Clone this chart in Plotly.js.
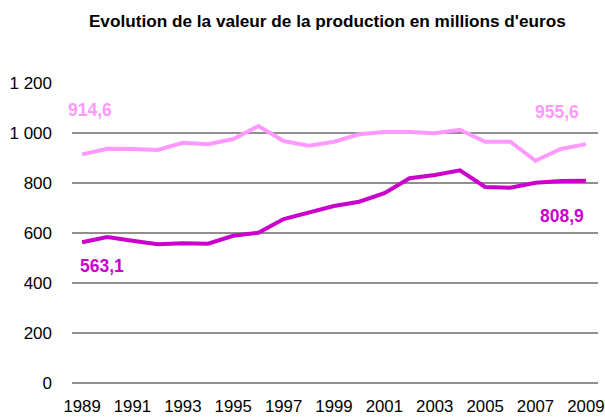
<!DOCTYPE html>
<html>
<head>
<meta charset="utf-8">
<script src="https://cdn.plot.ly/plotly-3.0.1.min.js"></script>
<style>
html,body{margin:0;padding:0;background:#fff;}
#chart{width:605px;height:419px;}
</style>
</head>
<body>
<div id="chart"></div>
<script>
const years = [1989,1990,1991,1992,1993,1994,1995,1996,1997,1998,1999,2000,2001,2002,2003,2004,2005,2006,2007,2008,2009];
const seriesLight = [914.6,937,936,932,961,955,976,1028,968,949,965,995,1004,1004,999,1013,965,965,889,936,955.6];
const seriesDark = [563.1,584,569,555,559,557,589,601,656,683,708,725,759,819,832,851,784,781,801,808,808.9];
const xTicks = [1989,1991,1993,1995,1997,1999,2001,2003,2005,2007,2009];
const yTicks = [0,200,400,600,800,1000,1200];
const yTickText = ["0","200","400","600","800","1 000","1 200"];
const labelLightFirst = "914,6";
const labelLightLast = "955,6";
const labelDarkFirst = "563,1";
const labelDarkLast = "808,9";
const titleText = "Evolution de la valeur de la production en millions d'euros";

const FONT = '"Liberation Sans", Arial, sans-serif';
const LIGHT = '#FF99FF';
const DARK = '#CC00CC';

const n = years.length - 1;
const traces = [
  {x: years, y: seriesLight, type: 'scatter', mode: 'lines', line: {color: LIGHT, width: 4}, hoverinfo: 'skip'},
  {x: years, y: seriesDark, type: 'scatter', mode: 'lines', line: {color: DARK, width: 4}, hoverinfo: 'skip'}
];

function lab(x, y, text, color, xs, ys) {
  return {x: x, y: y, xref: 'x', yref: 'y', text: '<b>' + text + '</b>', showarrow: false,
    xshift: xs, yshift: ys, font: {family: FONT, size: 17.5, color: color}};
}

const layout = {
  width: 605, height: 419,
  margin: {l: 72, r: 7, t: 83, b: 36},
  paper_bgcolor: '#fff', plot_bgcolor: '#fff',
  showlegend: false,
  title: {text: '<b>' + titleText + '</b>', x: 0.541, xanchor: 'center', y: 0.95, yanchor: 'middle',
    font: {family: FONT, size: 17.2, color: '#000'}},
  xaxis: {range: [1988.6, 2009.48], tickvals: xTicks, ticktext: xTicks.map(String),
    showgrid: false, zeroline: false, showline: false, ticks: '',
    tickfont: {family: FONT, size: 16.8, color: '#000'}, ticklabelstandoff: 11, fixedrange: true},
  yaxis: {range: [0, 1200], tickvals: yTicks, ticktext: yTickText,
    showgrid: true, gridcolor: '#8f8f8f', gridwidth: 1.6, zeroline: true, zerolinecolor: '#8f8f8f', zerolinewidth: 1.6,
    showline: false, ticks: '', tickfont: {family: FONT, size: 17, color: '#000'}, ticklabelstandoff: 19, fixedrange: true},
  annotations: [
    lab(years[0], seriesLight[0], labelLightFirst, LIGHT, 8, 44),
    lab(years[0], seriesDark[0], labelDarkFirst, DARK, 20, -24),
    lab(years[n], seriesLight[n], labelLightLast, LIGHT, -29, 32),
    lab(years[n], seriesDark[n], labelDarkLast, DARK, -24, -35)
  ]
};

Plotly.newPlot('chart', traces, layout, {staticPlot: true, displayModeBar: false});
</script>
</body>
</html>
